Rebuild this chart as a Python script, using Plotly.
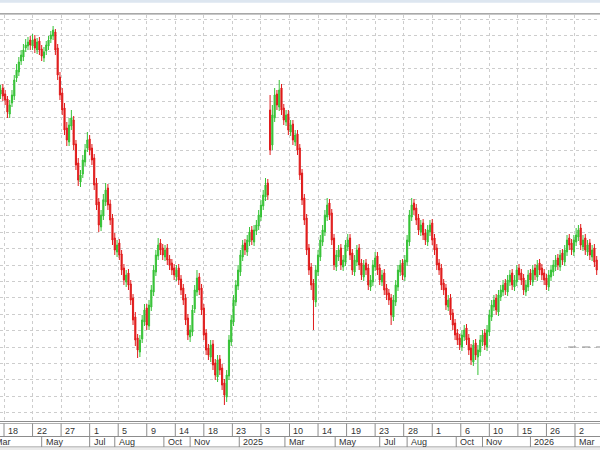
import plotly.graph_objects as go

# ---- data (2-trading-day candles, x = trading-day index) ----
X = list(range(-3, 521, 2))
OPEN = [40.6,41.2,40.6,40.1,38.6,39.7,40.4,42.2,42.8,43.9,44.3,45.2,45.4,46.0,45.4,46.1,45.0,45.9,45.1,44.2,
        44.9,45.4,46.1,46.4,46.8,45.2,42.3,40.7,39.2,37.2,35.8,37.4,38.0,35.6,33.7,31.8,32.6,33.8,35.2,36.1,
        35.2,34.2,31.7,29.8,27.3,28.4,29.8,31.2,29.6,28.2,26.2,24.8,25.7,24.6,23.2,21.8,22.7,21.6,20.2,18.3,
        16.2,14.8,16.1,17.8,19.2,17.4,19.3,20.8,22.8,24.4,25.7,25.2,24.3,25.2,24.1,23.7,23.2,22.3,23.2,22.1,
        21.2,20.2,18.2,16.3,16.8,19.1,20.8,22.3,21.2,19.2,16.7,15.2,14.3,15.6,13.7,12.3,14.1,13.2,11.7,10.3,
        12.4,15.8,17.8,19.8,21.4,22.8,24.3,25.7,24.8,25.8,27.0,25.8,26.9,27.4,28.3,29.4,30.3,31.7,39.0,35.5,
        38.2,40.6,39.3,41.2,39.2,37.8,38.6,36.8,37.6,35.8,36.6,35.2,32.7,30.2,28.2,25.2,23.3,21.7,19.8,22.8,
        24.3,25.8,26.8,28.3,29.7,28.7,26.2,23.3,24.3,25.2,23.3,23.8,25.3,26.2,24.7,22.8,23.8,25.2,23.7,22.3,
        23.7,23.2,21.3,21.8,23.3,24.4,23.2,21.8,22.7,21.2,20.7,20.2,18.3,19.8,21.3,22.8,23.7,22.3,23.8,25.8,
        28.3,29.7,29.2,28.2,26.8,27.7,26.7,25.8,26.8,27.7,26.2,25.2,23.7,23.2,21.7,21.2,19.3,20.2,18.7,17.7,
        16.7,16.2,15.3,16.3,17.2,16.2,15.2,13.8,15.7,14.3,14.8,15.8,16.7,15.3,16.8,18.3,19.3,20.2,18.8,20.3,
        20.8,21.7,20.8,21.8,22.7,21.3,21.8,23.2,22.7,22.2,20.8,21.3,22.7,21.8,23.2,22.3,23.7,23.2,22.7,22.2,
        21.3,22.3,22.8,23.3,24.2,23.3,24.7,23.8,24.8,26.2,25.7,24.8,25.8,26.3,27.2,25.3,26.2,24.8,25.7,24.3,
        25.2,24.0]
HIGH = [41.5,41.6,41.0,40.4,40.0,41.0,42.5,43.6,44.3,45.0,45.6,46.1,46.3,46.4,46.6,46.5,46.2,46.3,45.5,45.3,
        45.9,46.4,46.9,47.4,47.1,45.6,42.8,41.2,39.7,37.8,38.2,39.0,38.4,36.0,34.2,33.0,34.5,35.6,36.8,36.5,
        35.6,34.6,32.2,30.2,29.0,30.6,31.7,31.6,30.0,28.6,26.7,26.0,26.1,25.0,23.6,23.0,23.1,22.0,20.6,18.8,
        16.6,16.5,18.5,19.6,19.6,20.0,21.5,23.5,25.0,26.2,26.1,25.6,25.5,25.6,24.5,24.1,23.6,23.5,23.6,22.5,
        21.6,20.6,18.6,17.5,19.5,21.5,23.0,22.7,21.6,19.6,17.1,15.6,16.0,16.0,14.1,14.5,14.5,13.6,12.1,13.0,
        16.5,18.5,20.5,22.0,23.5,25.0,26.0,26.1,26.5,27.3,27.4,27.5,28.0,29.0,30.0,31.0,32.2,32.1,40.5,39.5,
        41.2,41.0,42.0,41.6,39.6,39.0,39.0,38.0,38.0,37.0,37.0,35.6,33.1,30.6,28.6,25.6,23.7,22.1,23.5,25.0,
        26.5,27.5,29.0,30.2,30.1,29.1,26.6,25.0,25.5,25.6,24.5,26.0,26.6,26.6,25.1,24.5,25.5,25.6,24.1,24.0,
        24.1,23.6,22.5,24.0,24.8,24.8,23.6,23.0,23.1,21.6,21.1,20.6,20.5,22.0,23.5,24.0,24.1,24.5,26.5,29.0,
        30.2,30.1,29.6,28.6,28.0,28.1,27.1,27.5,28.0,28.1,26.6,25.6,24.1,23.6,22.1,21.6,20.5,20.6,19.1,18.1,
        17.1,16.6,17.0,17.5,17.6,16.6,15.6,16.0,16.1,15.5,16.5,17.0,17.1,17.5,19.0,20.0,20.5,20.6,21.0,21.5,
        22.0,22.1,22.5,23.0,23.1,22.5,23.5,23.6,23.1,22.6,22.0,23.0,23.1,23.5,23.6,24.0,24.1,23.6,23.1,22.6,
        23.0,23.5,24.0,24.5,24.6,25.0,25.1,25.5,26.5,26.6,26.1,26.5,27.2,27.5,27.6,26.5,26.6,26.0,26.1,25.5,
        25.6,24.4]
LOW = [40.1,39.9,39.5,38.2,38.2,39.3,40.0,41.8,42.4,43.5,43.9,44.8,45.0,45.0,45.0,44.7,44.6,44.5,43.9,43.8,
       44.5,45.0,45.7,46.0,44.5,42.0,40.0,38.5,36.5,35.4,35.4,37.0,35.0,33.0,31.4,31.3,32.2,33.4,34.8,34.5,
       33.5,31.0,29.0,26.8,26.9,28.0,29.4,29.0,27.5,25.5,24.5,24.3,24.0,22.5,21.5,21.3,21.0,19.5,17.5,15.4,
       14.2,14.3,15.7,17.4,17.0,17.0,18.9,20.4,22.4,24.0,24.5,24.0,23.9,23.5,23.0,22.5,22.0,21.9,21.5,20.5,
       19.5,17.5,16.0,15.8,16.4,18.7,20.4,20.5,18.5,16.0,14.5,14.0,13.8,13.0,12.0,11.8,12.5,11.0,9.5,9.8,
       12.0,15.4,17.4,19.4,21.0,22.4,23.9,24.5,24.4,25.4,25.5,25.4,26.5,27.0,27.9,29.0,29.9,30.0,34.5,35.0,
       37.8,39.0,38.9,38.5,37.5,37.4,36.5,36.4,35.5,35.4,34.5,32.0,29.5,27.5,24.5,22.5,21.0,17.0,19.3,22.4,
       23.9,25.4,26.4,27.9,28.0,25.5,23.0,22.9,23.9,23.0,22.9,23.4,24.9,24.0,22.5,22.4,23.4,23.0,22.0,21.9,
       22.5,21.0,20.9,21.4,22.9,22.5,21.5,21.4,20.5,20.0,19.5,17.5,17.9,19.4,20.9,22.4,22.0,21.9,23.4,25.4,
       27.9,28.5,27.5,26.5,26.4,26.0,25.5,25.4,26.4,25.5,24.5,23.0,22.5,21.0,20.5,19.0,18.9,18.0,17.0,16.0,
       15.5,15.0,14.9,15.9,15.5,14.5,13.5,13.4,14.0,12.5,14.4,15.4,15.0,14.9,16.4,17.9,18.9,18.5,18.4,19.9,
       20.4,20.5,20.4,21.4,21.0,20.9,21.4,22.0,21.5,20.5,20.4,20.9,21.5,21.4,22.0,21.9,22.5,22.0,21.5,21.0,
       20.9,21.9,22.4,22.9,23.0,22.9,23.5,23.4,24.4,25.0,24.5,24.4,25.4,25.9,25.0,24.9,24.5,24.4,24.0,23.9,
       23.3,22.5]
CLOSE = [41.0,40.4,40.0,38.8,39.5,40.5,42.0,43.0,43.8,44.5,45.0,45.5,45.8,45.5,46.0,45.2,45.8,45.0,44.4,44.8,
         45.5,46.0,46.5,47.0,45.0,42.5,40.5,39.0,37.0,36.0,37.5,38.2,35.5,33.5,32.0,32.5,34.0,35.0,36.0,35.0,
         34.0,31.5,29.5,27.5,28.5,30.0,31.0,29.5,28.0,26.0,25.0,25.5,24.5,23.0,22.0,22.5,21.5,20.0,18.0,16.0,
         15.0,16.0,18.0,19.0,17.5,19.5,21.0,23.0,24.5,25.5,25.0,24.5,25.0,24.0,23.5,23.0,22.5,23.0,22.0,21.0,
         20.0,18.0,16.5,17.0,19.0,21.0,22.2,21.0,19.0,16.5,15.0,14.5,15.5,13.5,12.5,14.0,13.0,11.5,10.5,12.5,
         16.0,18.0,20.0,21.5,23.0,24.5,25.5,25.0,26.0,26.8,26.0,27.0,27.5,28.5,29.5,30.5,31.5,30.5,35.0,38.5,
         40.5,39.5,41.0,39.0,38.0,38.5,37.0,37.5,36.0,36.5,35.0,32.5,30.0,28.0,25.0,23.0,21.5,20.0,23.0,24.5,
         26.0,27.0,28.5,29.5,28.5,26.0,23.5,24.5,25.0,23.5,24.0,25.5,26.0,24.5,23.0,24.0,25.0,23.5,22.5,23.5,
         23.0,21.5,22.0,23.5,24.2,23.0,22.0,22.5,21.0,20.5,20.0,18.5,20.0,21.5,23.0,23.5,22.5,24.0,26.0,28.5,
         29.5,29.0,28.0,27.0,27.5,26.5,26.0,27.0,27.5,26.0,25.0,23.5,23.0,21.5,21.0,19.5,20.0,18.5,17.5,16.5,
         16.0,15.5,16.5,17.0,16.0,15.0,14.0,15.5,14.5,15.0,16.0,16.5,15.5,17.0,18.5,19.5,20.0,19.0,20.5,21.0,
         21.5,21.0,22.0,22.5,21.5,22.0,23.0,22.5,22.0,21.0,21.5,22.5,22.0,23.0,22.5,23.5,23.0,22.5,22.0,21.5,
         22.5,23.0,23.5,24.0,23.5,24.5,24.0,25.0,26.0,25.5,25.0,26.0,26.5,27.0,25.5,26.0,25.0,25.5,24.5,25.0,
         23.8,23.0]

DAY_TICKS = [0, 25, 50, 75, 100, 125, 150, 175, 200, 225, 250, 275, 300, 325, 350, 375, 400, 425, 450, 475, 500]
DAY_LABELS = ["18", "22", "27", "1", "5", "9", "14", "18", "23", "3", "10", "14", "19", "23", "28",
              "1", "6", "10", "15", "26", "2"]
MONTH_STARTS = [-11, 33, 75, 97, 140, 163, 206, 246, 290, 329, 353, 396, 419, 461, 500]
MONTH_LABELS = ["Mar", "May", "Jul", "Aug", "Oct", "Nov", "2025", "Mar", "May", "Jul", "Aug",
                "Oct", "Nov", "2026", "Mar"]
LEVEL_PRICE = 15.3
LEVEL_X = [494, 522]

X_RANGE = [-3.5, 521.9]
Y_RANGE = [7.9, 48.5]
PX_PER_BAR = 600.0 / (X_RANGE[1] - X_RANGE[0])

fig = go.Figure()
fig.add_trace(go.Candlestick(
    x=X, open=OPEN, high=HIGH, low=LOW, close=CLOSE,
    increasing=dict(line=dict(color="#36c236", width=1), fillcolor="#36c236"),
    decreasing=dict(line=dict(color="#e01b1b", width=1), fillcolor="#e01b1b"),
    whiskerwidth=0, showlegend=False, hoverinfo="skip",
))
fig.add_trace(go.Scatter(
    x=LEVEL_X, y=[LEVEL_PRICE, LEVEL_PRICE], mode="lines",
    line=dict(color="#8a8a8a", width=1, dash="8px,6px"), showlegend=False, hoverinfo="skip",
))

# axis band geometry (paper coords; plot height 406px)
H = 406.0
def py(p):
    return (421.0 - p) / H

shapes = []
line_col = "#8c8c8c"
shapes.append(dict(type="rect", xref="paper", yref="paper", x0=0, x1=1, y0=py(2.7), y1=py(-1),
                   fillcolor="#dde6f0", line=dict(width=0), layer="below"))
shapes.append(dict(type="line", xref="paper", yref="paper", x0=0, x1=1, y0=py(13.5), y1=py(13.5),
                   line=dict(color="#a8a8a8", width=1)))
shapes.append(dict(type="line", xref="paper", yref="paper", x0=0, x1=1, y0=py(14.5), y1=py(14.5),
                   line=dict(color="#c8c8c8", width=1)))
for yy, col in [(421.5, "#8c8c8c"), (423.5, "#b0b0b0"), (436.5, line_col), (447.0, line_col)]:
    shapes.append(dict(type="line", xref="paper", yref="paper", x0=0, x1=1, y0=py(yy), y1=py(yy),
                       line=dict(color=col, width=1)))
shapes.append(dict(type="rect", xref="paper", yref="paper", x0=0, x1=1, y0=py(452), y1=py(447.5),
                   fillcolor="#ebebeb", line=dict(width=0)))
for b in DAY_TICKS:
    shapes.append(dict(type="line", xref="x", yref="paper", x0=b, x1=b, y0=py(423.5), y1=py(436.5),
                       line=dict(color=line_col, width=1)))
for b in MONTH_STARTS:
    if b >= X_RANGE[0]:
        shapes.append(dict(type="line", xref="x", yref="paper", x0=b, x1=b, y0=py(436.5), y1=py(447),
                           line=dict(color=line_col, width=1)))

annotations = []
lab_font = dict(family="Liberation Sans, Arial, sans-serif", size=9, color="#333333")

def label(b, t, yy):
    # labels whose cell starts left of the visible range are anchored at the range edge and shifted
    xa = max(b, X_RANGE[0])
    shift = 2 + (b - xa) * PX_PER_BAR
    return dict(x=xa, y=py(yy), xref="x", yref="paper", text=t, showarrow=False,
                xanchor="left", yanchor="middle", xshift=shift, font=lab_font)

for b, t in zip(DAY_TICKS, DAY_LABELS):
    annotations.append(label(b, t, 430.5))
for b, t in zip(MONTH_STARTS, MONTH_LABELS):
    annotations.append(label(b, t, 442))

fig.update_layout(
    width=600, height=450,
    margin=dict(l=0, r=0, t=15, b=29),
    paper_bgcolor="white", plot_bgcolor="white",
    shapes=shapes, annotations=annotations,
    xaxis=dict(range=X_RANGE, tickvals=DAY_TICKS, showticklabels=False, ticks="",
               showgrid=True, gridcolor="#cdcdcd", griddash="dot", gridwidth=1,
               zeroline=False, showline=False, rangeslider=dict(visible=False)),
    yaxis=dict(range=Y_RANGE, tick0=48.1, dtick=1.64, showticklabels=False, ticks="",
               showgrid=True, gridcolor="#cdcdcd", griddash="dot", gridwidth=1,
               zeroline=False, showline=False),
)
fig.write_html("out.html")
